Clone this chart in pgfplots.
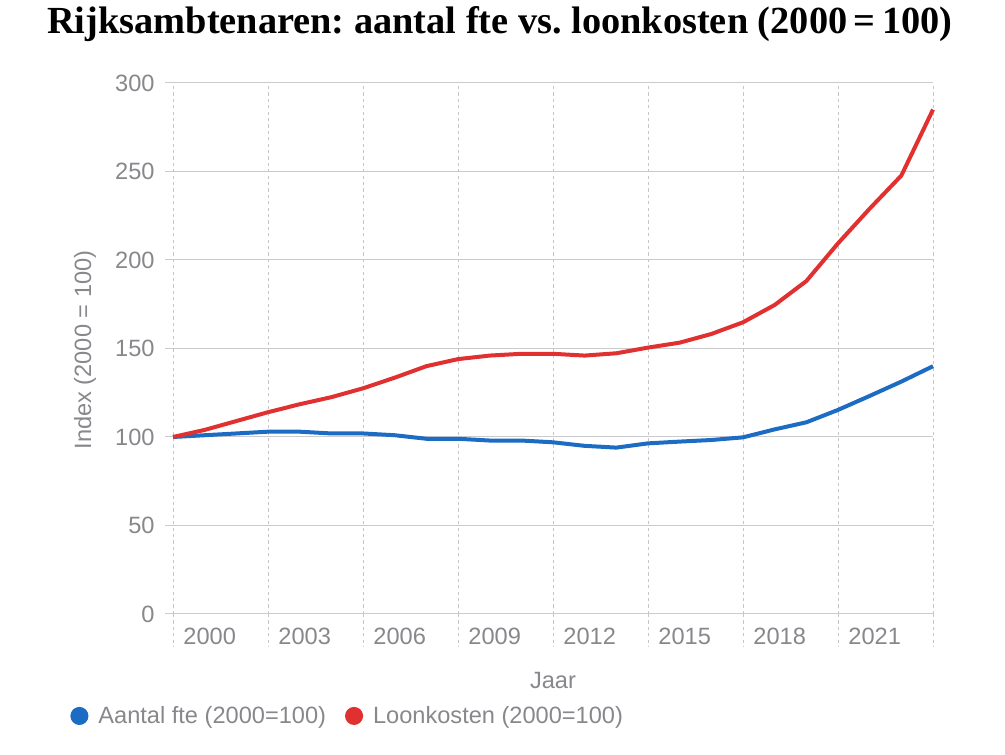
\documentclass[border=0pt]{standalone}
\usepackage{graphicx}
\usepackage{pgfplots}
\pgfplotsset{compat=1.18}
\usepackage{fontspec}
\setmainfont{Liberation Sans}
\newfontfamily\titlefont{Liberation Serif}
\definecolor{blueC}{HTML}{1D6CC4}
\definecolor{redC}{HTML}{E0302F}
\definecolor{txtC}{HTML}{88888C}
\definecolor{gridC}{HTML}{CBCBCE}
\definecolor{vgridC}{HTML}{C6C6CA}
\frenchspacing
\begin{document}
\begin{tikzpicture}
\useasboundingbox (0,0) rectangle (502.5pt,377pt);
\begin{axis}[
  at={(86.5pt,70pt)}, anchor=south west,
  scale only axis, width=380pt, height=265.5pt,
  xmin=2000, xmax=2024, ymin=0, ymax=300,
  clip=false,
  axis line style={draw=none},
  major tick length=0pt,
  xtick={2000,2003,2006,2009,2012,2015,2018,2021,2024},
  xticklabels={2000,2003,2006,2009,2012,2015,2018,2021,{}},
  ytick={0,50,100,150,200,250,300},
  grid=major,
  x grid style={vgridC, line width=0.5pt, dash pattern=on 1.6pt off 1.6pt},
  y grid style={gridC, line width=0.5pt},
  /pgf/number format/assume math mode=true,
  /pgf/number format/1000 sep={},
  ticklabel style={font=\fontsize{11.8}{14}\selectfont, text=txtC, inner sep=0pt},
  xticklabel style={anchor=west, xshift=5pt, yshift=-11pt},
  yticklabel style={anchor=east, xshift=-9pt},
  xlabel={Jaar}, ylabel={Index (2000 = 100)},
  label style={font=\fontsize{11.8}{14}\selectfont, text=txtC},
  xlabel style={at={(axis description cs:0.5,-0.1243)}, anchor=center},
  ylabel style={at={(axis description cs:-0.1158,0.497)}, anchor=center},
  every axis title shift=0pt,
  title={\resizebox{452.5pt}{!}{\titlefont\bfseries\frenchspacing Rijksambtenaren: aantal fte vs. loonkosten (2000\,=\,100)}},
  title style={font=\fontsize{16}{19}\selectfont, at={(axis description cs:0.430,1.0923)}, anchor=base, text=black, inner sep=0pt},
  legend columns=2,
  legend style={at={(axis description cs:-0.1355,-0.192)}, anchor=west, draw=none, fill=none,
    inner sep=0pt, font=\fontsize{11.8}{14}\selectfont, text=txtC,
    /tikz/every odd column/.append style={column sep=3pt},
    /tikz/every even column/.append style={column sep=7.5pt}},
  legend cell align=left,
  legend image code/.code={\fill (3.5pt,0pt) circle (3.5pt);},
]
\addplot[color=blueC, line width=2pt, line join=round] table[x=year, y=fte] {
year fte
2000 100
2001 101
2002 102
2003 103
2004 103
2005 102
2006 102
2007 101
2008 99
2009 99
2010 98
2011 98
2012 97
2013 95
2014 94
2015 96.4
2016 97.4
2017 98.3
2018 99.8
2019 104.3
2020 108.3
2021 115.3
2022 123.2
2023 131.3
2024 140
};
\addlegendentry{Aantal fte (2000=100)}
\addplot[color=redC, line width=2pt, line join=round] table[x=year, y=loon] {
year loon
2000 100
2001 104
2002 109
2003 114
2004 118.5
2005 122.5
2006 127.5
2007 133.5
2008 140
2009 144
2010 146
2011 147
2012 147
2013 146
2014 147.3
2015 150.5
2016 153.3
2017 158.2
2018 164.8
2019 174.6
2020 188.1
2021 209.4
2022 229
2023 247.7
2024 285
};
\addlegendentry{Loonkosten (2000=100)}
\pgfplotsinvokeforeach{0,0.125,0.25,0.375,0.5,0.625,0.75,0.875,1}{
  \draw[vgridC, line width=0.5pt, dash pattern=on 1.6pt off 1.6pt] (rel axis cs:#1,0) -- ++(0pt,-16.5pt);
}
\pgfplotsinvokeforeach{0,0.16667,0.33333,0.5,0.66667,0.83333,1}{
  \draw[gridC, line width=0.5pt] (rel axis cs:0,#1) -- ++(-4pt,0pt);
}
\end{axis}
\end{tikzpicture}
\end{document}
